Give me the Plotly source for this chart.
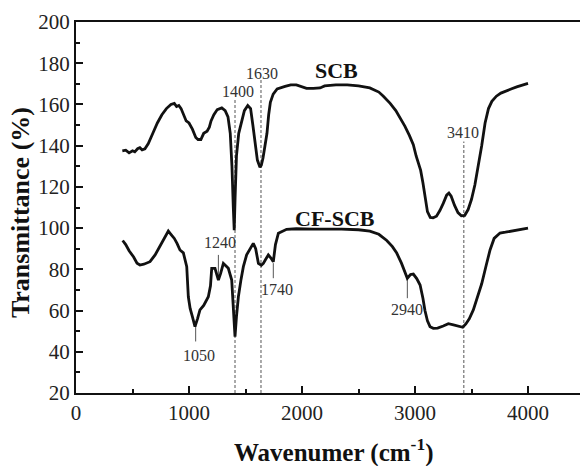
import plotly.graph_objects as go

# ---- data ----
scb_wn = [410, 440, 470, 500, 520, 545, 565, 585, 610, 640, 680, 720, 760, 800, 840, 870, 890, 910, 930, 950,
          975, 1000, 1030, 1060, 1080, 1105, 1130, 1160, 1180, 1195, 1220, 1250, 1290, 1320, 1345, 1365, 1380,
          1392, 1400, 1408, 1420, 1440, 1460, 1490, 1520, 1545, 1565, 1585, 1605, 1628, 1640, 1655, 1675, 1690,
          1705, 1720, 1745, 1780, 1850, 1900, 1950, 2000, 2040, 2100, 2160, 2200, 2300, 2400, 2500, 2600, 2680,
          2720, 2780, 2830, 2870, 2910, 2950, 2985, 3010, 3030, 3050, 3070, 3090, 3110, 3135, 3160, 3190, 3220,
          3250, 3280, 3300, 3320, 3350, 3380, 3410, 3440, 3470, 3500, 3530, 3560, 3590, 3620, 3650, 3680, 3720,
          3760, 3800, 3850, 3900, 3950, 4000]
scb_t = [137.5, 137.8, 136.5, 137.5, 137, 138.5, 139, 138, 138.5, 141, 146, 151, 155, 158, 160, 160.5, 159, 159.5,
         158, 155, 152, 151, 148, 144, 143, 143, 146, 147, 149, 152, 155, 157.5, 158.3, 157, 154, 146, 130, 110,
         99, 115, 135, 146, 150, 157, 159.5, 158, 150, 140, 133, 129.5, 130.5, 134, 140, 146, 155, 161, 165,
         167.5, 168.8, 169.5, 169.5, 168.5, 167.8, 167.8, 168, 169, 169.5, 169.5, 169, 168, 166, 164, 160.5, 157,
         153.5, 149.5, 145, 140.5, 135, 132, 128, 122, 114, 108, 105.2, 105, 105.8, 108.5, 112, 116, 117, 115.5,
         111, 107.5, 106, 106.2, 109, 114, 121, 130, 140, 151, 158, 161.5, 164, 165.5, 166.5, 167.5, 168.5,
         169.5, 170.2]

cf_wn = [413, 440, 470, 510, 540, 566, 600, 655, 700, 740, 780, 817, 840, 870, 895, 920, 950, 980, 994, 1010,
         1030, 1053, 1075, 1097, 1130, 1171, 1190, 1201, 1230, 1260, 1280, 1304, 1330, 1348, 1378, 1392, 1407,
         1420, 1437, 1460, 1481, 1510, 1540, 1569, 1590, 1614, 1640, 1658, 1680, 1702, 1725, 1746, 1765, 1791,
         1864, 1950, 2100, 2200, 2350, 2500, 2600, 2680, 2750, 2800, 2838, 2880, 2910, 2932, 2960, 2985, 3015,
         3045, 3070, 3088, 3110, 3133, 3162, 3200, 3250, 3295, 3340, 3380, 3422, 3450, 3480, 3516, 3550, 3590,
         3630, 3664, 3700, 3752, 3800, 3880, 3950, 4000]
cf_t = [94, 92, 89, 86, 83, 82.1, 82.5, 83.7, 87, 91, 95, 98.6, 97, 95, 92.5, 89.4, 88, 81.3, 66.7, 61, 57, 52.2,
        56, 60.3, 62.5, 66.7, 72, 80.5, 80.5, 74.8, 78, 82.9, 81.5, 80.5, 74.8, 58.7, 47.3, 57, 66.7, 75, 81.3,
        87, 90, 92.6, 90, 82.9, 82, 82.9, 85, 87, 85.5, 83.7, 92, 97.5, 99.4, 99.7, 99.5, 99.6, 99.5, 99.2, 98.5,
        97, 94, 91, 87.9, 83, 78.5, 75.7, 77.5, 77.7, 75.5, 72.4, 66, 60, 55, 52.2, 51.4, 51.5, 52.5, 53.6, 53,
        52.3, 51.9, 53.5, 56, 60.3, 66, 73, 82, 89.4, 95, 97.6, 98, 98.8, 99.5, 100]

# series labels
series_names = ["SCB", "CF-SCB"]
series_label_pos = [(2301, 176.4), (2292, 104.9)]

# dashed guide lines (wavenumber, top of line)
dash_wn = [1407, 1637, 3432]
dash_top = [163, 172, 142]

# short solid marker lines on CF-SCB (wavenumber, y0, y1)
mark_wn = [1059, 1260, 1746, 2932]
mark_y0 = [52.5, 87, 83, 75.7]
mark_y1 = [45, 74.8, 75.7, 66]

# peak labels
peak_text = ["1630", "1400", "3410", "1240", "1740", "1050", "2940"]
peak_x = [1643, 1431, 3427, 1274, 1776, 1091, 2932]
peak_y = [175.1, 166.2, 146.3, 92.9, 70.3, 38.0, 60.3]

x_ticks = [0, 1000, 2000, 3000, 4000]

SERIF = "Liberation Serif, Times New Roman, serif"

fig = go.Figure()
fig.add_trace(go.Scatter(x=scb_wn, y=scb_t, mode="lines", line=dict(color="#111", width=2.8),
                         name="SCB", showlegend=False))
fig.add_trace(go.Scatter(x=cf_wn, y=cf_t, mode="lines", line=dict(color="#111", width=2.8),
                         name="CF-SCB", showlegend=False))

for wx, top in zip(dash_wn, dash_top):
    fig.add_shape(type="line", xref="x", yref="y", x0=wx, x1=wx, y0=20, y1=top,
                  line=dict(color="#555", width=1, dash="3px,2px"), layer="below")
for wx, a, b in zip(mark_wn, mark_y0, mark_y1):
    fig.add_shape(type="line", xref="x", yref="y", x0=wx, x1=wx, y0=a, y1=b,
                  line=dict(color="#555", width=1), layer="below")

for txt, (ax, ay) in zip(series_names, series_label_pos):
    fig.add_annotation(x=ax, y=ay, xref="x", yref="y", text="<b>%s</b>" % txt, showarrow=False,
                       xanchor="center", yanchor="middle",
                       font=dict(family=SERIF, size=22, color="#111"))
for txt, ax, ay in zip(peak_text, peak_x, peak_y):
    fig.add_annotation(x=ax, y=ay, xref="x", yref="y", text=txt, showarrow=False,
                       xanchor="center", yanchor="middle",
                       font=dict(family=SERIF, size=16, color="#333"))

# axis titles
fig.add_annotation(x=0.512, y=-0.155, xref="paper", yref="paper", xanchor="center", yanchor="middle",
                   text="<b>Wavenumer (cm<sup>-1</sup>)</b>", showarrow=False,
                   font=dict(family=SERIF, size=25, color="#111"))
fig.add_annotation(x=-0.111, y=0.485, xref="paper", yref="paper", xanchor="center", yanchor="middle",
                   textangle=-90,
                   text="<b>Transmittance (%)</b>", showarrow=False,
                   font=dict(family=SERIF, size=26, color="#111"))

fig.update_layout(
    width=580, height=466,
    margin=dict(l=76, r=0, t=22, b=73),
    paper_bgcolor="white", plot_bgcolor="white",
    showlegend=False,
)
fig.update_xaxes(range=[0, 4460], tickmode="array", tickvals=x_ticks,
                 ticks="inside", ticklen=7, tickwidth=2, tickcolor="#111",
                 minor=dict(tickmode="linear", tick0=0, dtick=500, ticks="inside", ticklen=4, tickwidth=2,
                            tickcolor="#111", showgrid=False),
                 showline=True, linecolor="#111", linewidth=2, mirror=True,
                 showgrid=False, zeroline=False, automargin=False,
                 tickfont=dict(family=SERIF, size=21, color="#222"))
fig.update_yaxes(range=[20, 200], tickmode="linear", tick0=20, dtick=20,
                 ticks="inside", ticklen=7, tickwidth=2, tickcolor="#111",
                 minor=dict(tickmode="linear", tick0=10, dtick=10, ticks="inside", ticklen=4, tickwidth=2,
                            tickcolor="#111", showgrid=False),
                 showline=True, linecolor="#111", linewidth=2, mirror=False,
                 showgrid=False, zeroline=False, automargin=False,
                 tickfont=dict(family=SERIF, size=21, color="#222"))

fig.write_html("out.html", config={"displayModeBar": False},
               post_script="document.body.style.margin='0px';document.body.style.overflow='hidden';")
